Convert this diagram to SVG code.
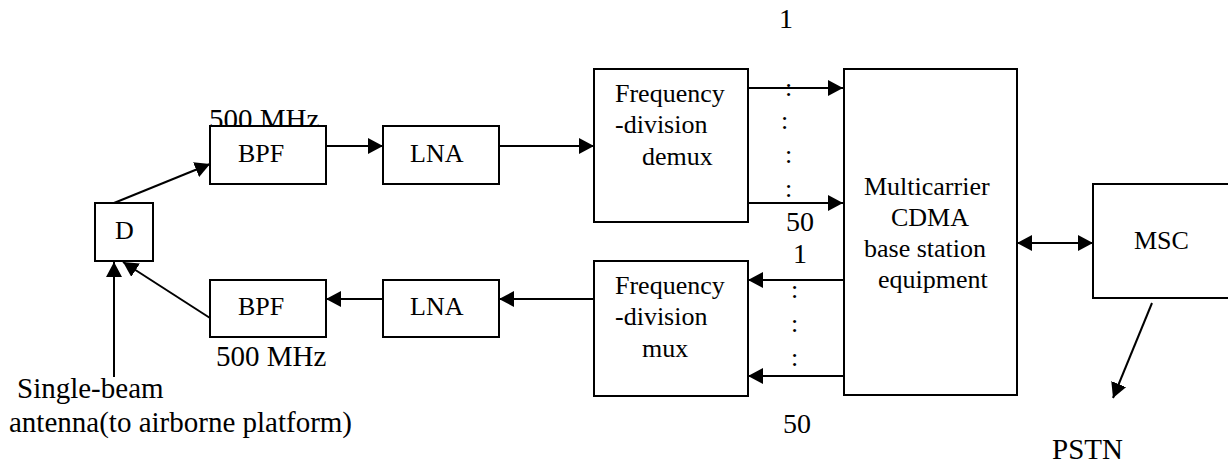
<svg xmlns="http://www.w3.org/2000/svg" width="1228" height="467" viewBox="0 0 1228 467">
<defs>
<style>
.box{fill:#fff;stroke:#000;stroke-width:2}
.ln{fill:none;stroke:#000;stroke-width:2}
text{font-family:'Liberation Serif','Times New Roman','DejaVu Serif',serif;fill:#000}
.t{font-size:26px}
.lb{font-size:29px}
.n{font-size:28px}
.dot{font-size:26px}
</style>
<marker id="ah" markerUnits="userSpaceOnUse" markerWidth="16" markerHeight="16" refX="15" refY="8" orient="auto-start-reverse" viewBox="0 0 16 16">
<path d="M0,0 L15,8 L0,16 z" fill="#000"/>
</marker>
</defs>

<g id="labels">
<text class="lb" x="209" y="129">500 MHz</text>
<text class="lb" x="216" y="366">500 MHz</text>
<text class="lb" x="17" y="398">Single-beam</text>
<text class="lb" x="9" y="432">antenna(to airborne platform)</text>
<text class="n" x="779" y="28">1</text>
<text class="n" x="786" y="231">50</text>
<text class="n" x="793" y="263">1</text>
<text class="n" x="783" y="433">50</text>
<text class="lb" x="1052" y="459">PSTN</text>
</g>

<g id="node-D"><rect class="box" x="95" y="203" width="58" height="58"/><text class="t" x="115" y="239">D</text></g>
<g id="node-BPF-up"><rect class="box" x="210" y="126" width="116" height="58"/><text class="t" x="238" y="162">BPF</text></g>
<g id="node-LNA-up"><rect class="box" x="383" y="126" width="116" height="58"/><text class="t" x="410" y="162">LNA</text></g>
<g id="node-BPF-down"><rect class="box" x="210" y="280" width="116" height="57"/><text class="t" x="238" y="315">BPF</text></g>
<g id="node-LNA-down"><rect class="box" x="383" y="280" width="116" height="57"/><text class="t" x="410" y="315">LNA</text></g>
<g id="node-demux"><rect class="box" x="594" y="69" width="154" height="153"/>
<text class="t" x="615" y="102">Frequency</text><text class="t" x="615" y="133">-division</text><text class="t" x="642" y="165">demux</text></g>
<g id="node-mux"><rect class="box" x="594" y="261" width="154" height="135"/>
<text class="t" x="615" y="294">Frequency</text><text class="t" x="615" y="325">-division</text><text class="t" x="642" y="357">mux</text></g>
<g id="node-bs"><rect class="box" x="844" y="69" width="173" height="326"/>
<text class="t" x="864" y="195">Multicarrier</text><text class="t" x="891" y="226">CDMA</text><text class="t" x="864" y="257">base station</text><text class="t" x="878" y="288">equipment</text></g>
<g id="node-MSC"><rect class="box" x="1093" y="184" width="136" height="114"/><text class="t" x="1134" y="249">MSC</text></g>

<g id="connectors">
<line class="ln" x1="114" y1="203" x2="210" y2="164" marker-end="url(#ah)"/>
<line class="ln" x1="210" y1="318" x2="123" y2="262" marker-end="url(#ah)"/>
<line class="ln" x1="114" y1="377" x2="114" y2="262" marker-end="url(#ah)"/>
<line class="ln" x1="326" y1="146" x2="383" y2="146" marker-end="url(#ah)"/>
<line class="ln" x1="499" y1="146" x2="594" y2="146" marker-end="url(#ah)"/>
<line class="ln" x1="748" y1="88" x2="843" y2="88" marker-end="url(#ah)"/>
<line class="ln" x1="748" y1="203" x2="843" y2="203" marker-end="url(#ah)"/>
<line class="ln" x1="843" y1="280" x2="748" y2="280" marker-end="url(#ah)"/>
<line class="ln" x1="843" y1="376" x2="748" y2="376" marker-end="url(#ah)"/>
<line class="ln" x1="594" y1="299" x2="499" y2="299" marker-end="url(#ah)"/>
<line class="ln" x1="383" y1="299" x2="326" y2="299" marker-end="url(#ah)"/>
<line class="ln" x1="1017" y1="243" x2="1093" y2="243" marker-start="url(#ah)" marker-end="url(#ah)"/>
<line class="ln" x1="1152" y1="303" x2="1113" y2="398" marker-end="url(#ah)"/>
</g>

<g id="dots">
<text class="dot" x="785" y="96">:</text>
<text class="dot" x="781" y="129">:</text>
<text class="dot" x="785" y="163">:</text>
<text class="dot" x="785" y="197">:</text>
<text class="dot" x="791" y="298">:</text>
<text class="dot" x="791" y="332">:</text>
<text class="dot" x="791" y="366">:</text>
</g>
</svg>
